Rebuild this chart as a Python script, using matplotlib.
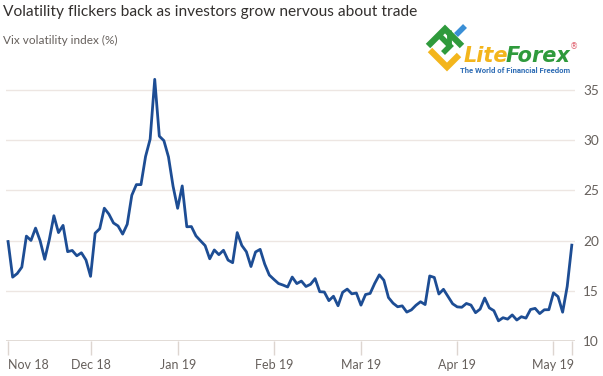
import matplotlib
matplotlib.use("Agg")
import matplotlib.pyplot as plt
from matplotlib.lines import Line2D
import pandas as pd
import numpy as np

# ---- data ----
holidays = ["2018-11-22", "2018-12-05", "2018-12-25", "2019-01-01",
            "2019-01-21", "2019-02-18", "2019-04-19"]
dates = [d for d in pd.bdate_range("2018-11-06", "2019-05-07")
         if d.strftime("%Y-%m-%d") not in holidays]

vix_nov = [19.91, 16.36, 16.72, 17.36, 20.45, 20.02, 21.25, 19.98, 18.14, 20.10,
           22.48, 20.80, 21.52, 18.90, 19.02, 18.49, 18.79, 18.07]
vix_dec = [16.44, 20.74, 21.19, 23.23, 22.64, 21.76, 21.46, 20.65, 21.63, 24.52,
           25.58, 25.58, 28.38, 30.11, 36.07, 30.41, 29.96, 28.34, 25.42]
vix_jan = [23.22, 25.45, 21.38, 21.40, 20.47, 19.98, 19.50, 18.19, 19.07, 18.60,
           19.04, 18.06, 17.80, 20.80, 19.52, 18.89, 17.42, 18.87, 19.13, 17.66, 16.57]
vix_feb = [16.14, 15.73, 15.57, 15.38, 16.37, 15.72, 15.97, 15.43, 15.65, 16.22,
           14.91, 14.88, 14.02, 14.46, 13.51, 14.85, 15.17, 14.70, 14.78]
vix_mar = [13.57, 14.63, 14.74, 15.74, 16.59, 16.05, 14.33, 13.77, 13.41, 13.50,
           12.88, 13.10, 13.56, 13.91, 13.63, 16.48, 16.33, 14.68, 15.15, 14.43, 13.71]
vix_apr = [13.40, 13.36, 13.74, 13.58, 12.82, 13.18, 14.28, 13.30, 13.02, 12.01,
           12.32, 12.18, 12.60, 12.09, 12.42, 12.28, 13.14, 13.25, 12.73, 13.11, 13.12]
vix_may = [14.80, 14.42, 12.87, 15.44, 19.55]

vix = vix_nov + vix_dec + vix_jan + vix_feb + vix_mar + vix_apr + vix_may

tick_dates = ["2018-11-06", "2018-12-03", "2019-01-02", "2019-02-01",
              "2019-03-01", "2019-04-01", "2019-05-01", "2019-05-07"]
tick_labels = ["Nov 18", "Dec 18", "Jan 19", "Feb 19", "Mar 19", "Apr 19", "May 19", ""]
y_ticks = [10, 15, 20, 25, 30, 35]

# ---- figure ----
W, H = 603, 376
fig = plt.figure(figsize=(W / 100, H / 100), dpi=100)
fig.patch.set_facecolor("white")
plt.rcParams["font.family"] = ["Lato", "DejaVu Sans"]

def fx(x):
    return x / W

def fy(y):
    return 1 - y / H

ax_left, ax_right, ax_top, ax_bot = 6, 575, 74, 341
ax = fig.add_axes([fx(ax_left), fy(ax_bot), (ax_right - ax_left) / W, (ax_bot - ax_top) / H])
ax.set_facecolor("white")

x = np.arange(len(vix))
date_strs = [d.strftime("%Y-%m-%d") for d in dates]
tick_pos = [date_strs.index(t) for t in tick_dates]

ax.plot(x, vix, color="#1d4d94", lw=2.0, solid_joinstyle="round", zorder=3)

ax.set_xlim(-0.45, 123.7)
ax.set_ylim(10, 36.6)

grid_c = "#ede6e2"
for yv in y_ticks[1:]:
    ax.axhline(yv, color=grid_c, lw=1.0, zorder=1)
ax.axhline(10, color="#ddd5d0", lw=1.2, zorder=2)

for s in ax.spines.values():
    s.set_visible(False)

ax.yaxis.tick_right()
ax.set_yticks(y_ticks)
ax.set_yticklabels([str(v) for v in y_ticks])
ax.tick_params(axis="y", length=0, pad=6, labelsize=9.8, labelcolor="#66605c")

ax.set_xticks(tick_pos)
ax.set_xticklabels(tick_labels)
ax.tick_params(axis="x", length=10, width=1.0, color="#ddd5d0", pad=3,
               labelsize=9.0, labelcolor="#66605c")
xl = ax.get_xticklabels()
xl[0].set_horizontalalignment("left")

# ---- titles ----
fig.text(fx(3), fy(12), "Volatility flickers back as investors grow nervous about trade",
         fontsize=11.2, color="#33302e", ha="left", va="center")
fig.text(fx(3), fy(40), "Vix volatility index (%)",
         fontsize=8.5, color="#66605c", ha="left", va="center")

# ---- watermark logo ----
def pline(pts, color, lw):
    xs = [fx(p[0]) for p in pts]
    ys = [fy(p[1]) for p in pts]
    fig.add_artist(Line2D(xs, ys, color=color, lw=lw, solid_capstyle="butt",
                          solid_joinstyle="miter", transform=fig.transFigure))

pline([(428, 46), (445, 29), (462, 46)], "#2f9a3c", 4.5)
pline([(440, 36), (450, 46), (443, 53)], "#2f9a3c", 4.0)
pline([(449, 30), (449, 44)], "#2f9a3c", 3.5)
pline([(430, 50), (447, 67), (459, 55)], "#f3b51c", 4.5)
pline([(456, 35), (465, 26)], "#3a8fd6", 4.0)

logo_font = ["DejaVu Sans"]
t1 = fig.text(fx(464), fy(62), "Lite", fontsize=15, fontweight="bold", fontstyle="italic",
              color="#f3b51c", ha="left", va="baseline", family=logo_font)
fig.canvas.draw()
bb = t1.get_window_extent(renderer=fig.canvas.get_renderer())
fig.text((bb.x1 - 3) / W, fy(62), "Forex", fontsize=15, fontweight="bold",
         fontstyle="italic", color="#2f9a3c", ha="left", va="baseline", family=logo_font)
fig.text(fx(574), fy(47), "®", fontsize=6, color="#e0606e", ha="center", va="center",
         family=["DejaVu Sans"])
fig.text(fx(515), fy(70.5), "The World of Financial Freedom", fontsize=5.6,
         fontweight="bold", color="#2f6db5", ha="center", va="center",
         family=["Roboto", "DejaVu Sans"])

fig.savefig("out.png", dpi=100, facecolor="white")
